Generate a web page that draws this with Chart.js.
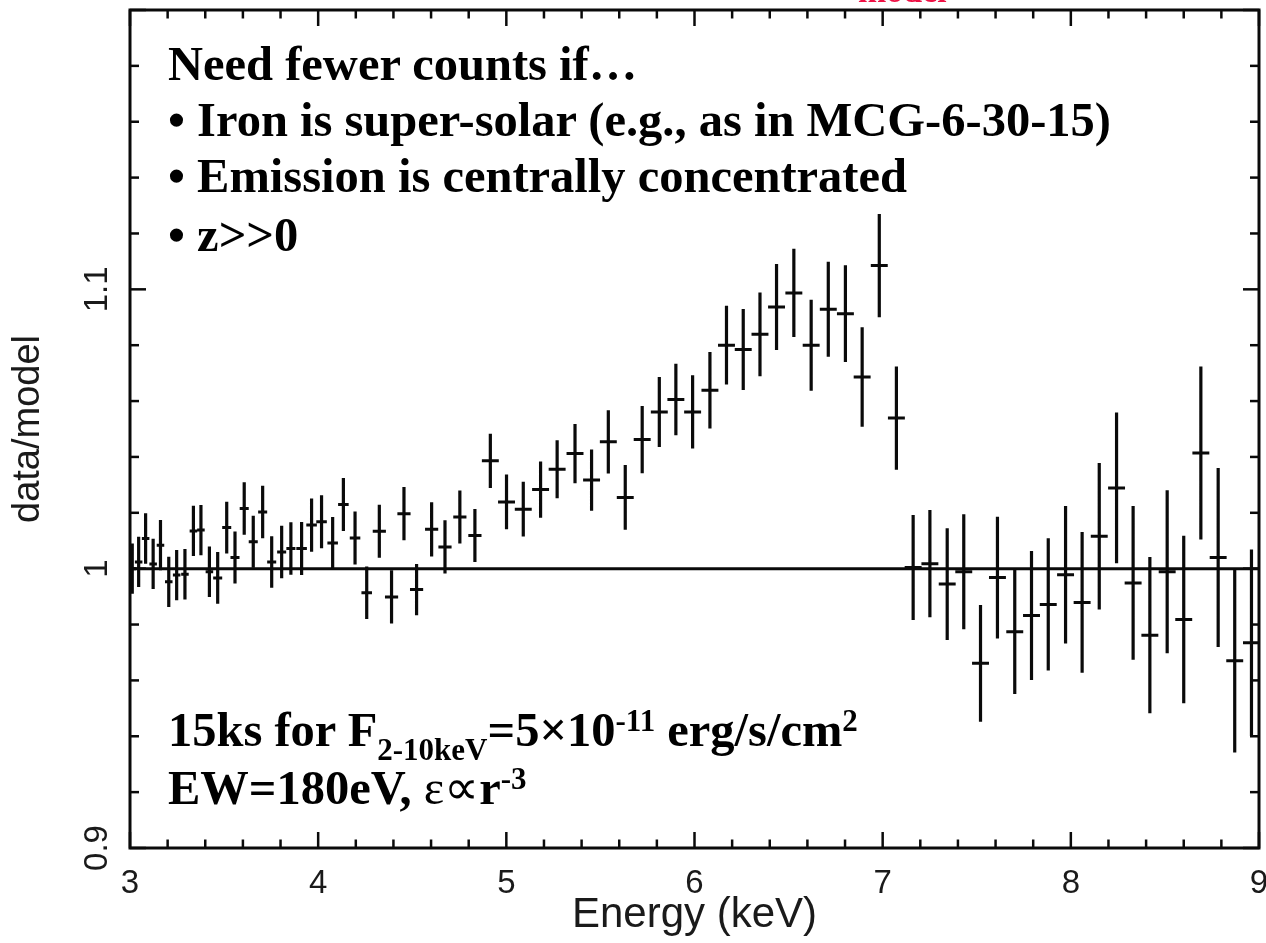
<!DOCTYPE html>
<html><head><meta charset="utf-8">
<script src="https://cdn.jsdelivr.net/npm/chart.js@4.4.1/dist/chart.umd.min.js"></script>
<style>
html,body{margin:0;padding:0;background:#fff;}
#wrap{position:relative;width:1266px;height:943px;overflow:hidden;background:#fff;}
#c{position:absolute;left:0;top:0;}
.ann{position:absolute;white-space:nowrap;font-family:"Liberation Serif","Times New Roman",serif;font-weight:bold;font-size:48.5px;line-height:48.5px;color:#000;}
.sub{font-size:31px;position:relative;top:14px;}
.sup{font-size:31px;position:relative;top:-15px;}
.sym{font-weight:normal;}
.red{position:absolute;white-space:nowrap;font-family:"Liberation Serif","Times New Roman",serif;font-weight:bold;font-size:34px;line-height:34px;color:#ee1144;}
</style></head>
<body><div id="wrap"><canvas id="c" width="1266" height="943"></canvas>
<div class="red" style="left:858px;top:-26px">model</div>
<div class="ann" style="left:168px;top:40px">Need fewer counts if…</div>
<div class="ann" style="left:168px;top:96px">• Iron is super-solar (e.g., as in MCG-6-30-15)</div>
<div class="ann" style="left:168px;top:152px">• Emission is centrally concentrated</div>
<div class="ann" style="left:168px;top:211px">• z&gt;&gt;0</div>
<div class="ann" style="left:168px;top:706px">15ks for F<span class="sub">2-10keV</span>=5×10<span class="sup">-11</span> erg/s/cm<span class="sup">2</span></div>
<div class="ann" style="left:168px;top:764px">EW=180eV, <span class="sym">ε∝</span>r<span class="sup">-3</span></div>
</div>
<script>
// Energy bin centres (keV)
const energy = [3.012,3.046,3.083,3.123,3.162,3.206,3.248,3.292,3.337,3.377,3.422,
  3.466,3.514,3.558,3.607,3.655,3.705,3.753,3.806,3.855,3.912,3.965,4.018,4.077,
  4.134,4.196,4.258,4.325,4.390,4.456,4.523,4.603,4.674,4.753,4.833,4.915,5.001,
  5.090,5.182,5.270,5.365,5.453,5.542,5.632,5.722,5.813,5.901,5.990,6.082,6.170,
  6.259,6.348,6.436,6.528,6.620,6.711,6.802,6.891,6.982,7.073,7.162,7.251,7.343,
  7.431,7.520,7.610,7.702,7.791,7.880,7.972,8.060,8.151,8.243,8.331,8.420,8.512,
  8.600,8.691,8.783,8.871,8.960];
// data/model ratio
const ratio = [1.000,1.0024,1.0108,1.0017,1.0084,0.9953,0.9977,0.998,1.0135,1.0138,0.9989,
  0.9967,1.0147,1.004,1.0215,1.0096,1.0203,1.0024,1.006,1.0072,1.0072,1.0156,1.0168,1.0092,
  1.023,1.011,0.9914,1.0134,0.9899,1.0197,0.9925,1.0141,1.0078,1.0185,1.0119,1.0386,1.0239,
  1.0213,1.0283,1.0356,1.0412,1.0317,1.0454,1.0255,1.0462,1.0561,1.0606,1.0561,1.0639,1.080,
  1.0785,1.0839,1.0937,1.0987,1.080,1.0929,1.0913,1.0686,1.1085,1.0539,1.0004,1.0018,0.9945,
  0.9989,0.9661,0.9968,0.9774,0.9832,0.9872,0.9978,0.9879,1.0116,1.0289,0.9949,0.9762,0.9989,
  0.9818,1.0414,1.004,0.967,0.9735];
// 1-sigma errors on the ratio
const ratioErr = [0.009,0.009,0.009,0.009,0.009,0.009,0.009,0.009,0.009,0.009,0.009,
  0.0093,0.0093,0.0093,0.0094,0.0093,0.0094,0.0092,0.0094,0.0094,0.0095,0.0095,0.0095,0.0093,
  0.0095,0.0095,0.0094,0.0095,0.0095,0.0095,0.0092,0.0097,0.0095,0.0095,0.0095,0.0097,0.0098,
  0.0098,0.0101,0.0104,0.0106,0.011,0.0113,0.0116,0.012,0.0125,0.0128,0.0131,0.0137,0.0141,
  0.0145,0.015,0.0154,0.0158,0.0163,0.017,0.0173,0.0178,0.0185,0.0185,0.0188,0.0192,0.020,
  0.0206,0.0209,0.0218,0.0223,0.0231,0.0237,0.0246,0.0252,0.0262,0.027,0.0275,0.028,0.0292,
  0.030,0.031,0.032,0.0328,0.0334];
// half width of each energy bin (keV)
const binHalfWidth = [0.02,0.02,0.02,0.02,0.02,0.02,0.02,0.02,0.02,0.02,0.02,
  0.024,0.024,0.024,0.024,0.024,0.024,0.024,0.024,0.024,0.028,0.028,0.028,0.028,
  0.028,0.028,0.028,0.035,0.035,0.035,0.035,0.035,0.035,0.035,0.035,0.045,0.045,
  0.045,0.045,0.045,0.045,0.045,0.045,0.045,0.045,0.045,0.045,0.045,0.045,0.045,
  0.045,0.045,0.045,0.045,0.045,0.045,0.045,0.045,0.045,0.045,0.045,0.045,0.045,
  0.045,0.045,0.045,0.045,0.045,0.045,0.045,0.045,0.045,0.045,0.045,0.045,0.045,
  0.045,0.045,0.045,0.045,0.045];
const xRange = [3, 9];
const yRange = [0.9, 1.2];
const xTickLabels = ['3','4','5','6','7','8','9'];
const yTickLabels = ['0.9','1','1.1'];
const unity = 1;

const vSegs = [], hSegs = [];
energy.forEach((e, i) => {
  vSegs.push({x: e, y: ratio[i] - ratioErr[i]}, {x: e, y: ratio[i] + ratioErr[i]}, {x: e, y: null});
  hSegs.push({x: e - binHalfWidth[i], y: ratio[i]}, {x: e + binHalfWidth[i], y: ratio[i]}, {x: e, y: null});
});

const INK = '#0a0a0a';
const framePlugin = {
  id: 'frame',
  afterDatasetsDraw(chart) {
    const {ctx, chartArea: a, scales: {x, y}} = chart;
    ctx.save();
    ctx.strokeStyle = INK; ctx.lineCap = 'butt';
    const seg = (x1, y1, x2, y2) => { ctx.beginPath(); ctx.moveTo(x1, y1); ctx.lineTo(x2, y2); ctx.stroke(); };
    ctx.lineWidth = 2.5;
    const nx = Math.round((xRange[1] - xRange[0]) / 0.2);
    for (let i = 0; i <= nx; i++) {
      const px = x.getPixelForValue(xRange[0] + i * 0.2);
      const len = (i % 5 === 0) ? 16 : 8.5;
      seg(px, a.bottom, px, a.bottom - len);
      seg(px, a.top, px, a.top + len);
    }
    const ny = Math.round((yRange[1] - yRange[0]) / 0.02);
    for (let i = 0; i <= ny; i++) {
      const py = y.getPixelForValue(yRange[0] + i * 0.02);
      const len = (i % 5 === 0) ? 16 : 9;
      seg(a.left, py, a.left + len, py);
      seg(a.right, py, a.right - len, py);
    }
    ctx.lineWidth = 3;
    ctx.strokeRect(a.left, a.top, a.right - a.left, a.bottom - a.top);
    ctx.restore();
  }
};

const lineDs = (label, data, w) => ({
  label, data, borderColor: INK, borderWidth: w, pointRadius: 0, pointHoverRadius: 0,
  spanGaps: false, tension: 0, fill: false, borderCapStyle: 'butt'
});

new Chart(document.getElementById('c'), {
  type: 'line',
  data: {
    datasets: [
      lineDs('error', vSegs, 3.2),
      lineDs('bin', hSegs, 3),
      lineDs('unity', [{x: xRange[0], y: unity}, {x: xRange[1], y: unity}], 3)
    ]
  },
  options: {
    responsive: false, animation: false, devicePixelRatio: 1,
    layout: {padding: {left: 0, right: 7, top: 10, bottom: 0}},
    plugins: {legend: {display: false}, tooltip: {enabled: false}},
    scales: {
      x: {
        type: 'linear', position: 'bottom', min: xRange[0], max: xRange[1],
        grid: {display: false, drawTicks: false}, border: {display: false},
        afterBuildTicks: s => { s.ticks = xTickLabels.map(t => ({value: parseFloat(t)})); },
        ticks: {
          autoSkip: false, maxRotation: 0, minRotation: 0, padding: 16, color: '#1a1a1a',
          font: {family: '"Liberation Sans", Arial, sans-serif', size: 33},
          callback: v => { const i = xTickLabels.findIndex(t => parseFloat(t) === v); return i >= 0 ? xTickLabels[i] : ''; }
        },
        title: {display: true, text: 'Energy (keV)', color: '#1a1a1a', padding: {top: 0, bottom: 2},
          font: {family: '"Liberation Sans", Arial, sans-serif', size: 42}},
        afterFit: s => { s.height = 95; s.paddingLeft = 0; s.paddingRight = 0; }
      },
      y: {
        type: 'linear', position: 'left', min: yRange[0], max: yRange[1],
        grid: {display: false, drawTicks: false}, border: {display: false},
        afterBuildTicks: s => { s.ticks = yTickLabels.map(t => ({value: parseFloat(t)})); },
        ticks: {
          autoSkip: false, minRotation: 90, maxRotation: 90, crossAlign: 'center', padding: 9, color: '#1a1a1a',
          font: {family: '"Liberation Sans", Arial, sans-serif', size: 33},
          callback: v => { const i = yTickLabels.findIndex(t => Math.abs(parseFloat(t) - v) < 1e-9); return i >= 0 ? yTickLabels[i] : ''; }
        },
        title: {display: true, text: 'data/model', color: '#1a1a1a', padding: {top: 6, bottom: 0},
          font: {family: '"Liberation Sans", Arial, sans-serif', size: 38}},
        afterFit: s => { s.width = 130; s.paddingTop = 0; s.paddingBottom = 0; }
      }
    }
  },
  plugins: [framePlugin]
});
</script>
</body></html>
